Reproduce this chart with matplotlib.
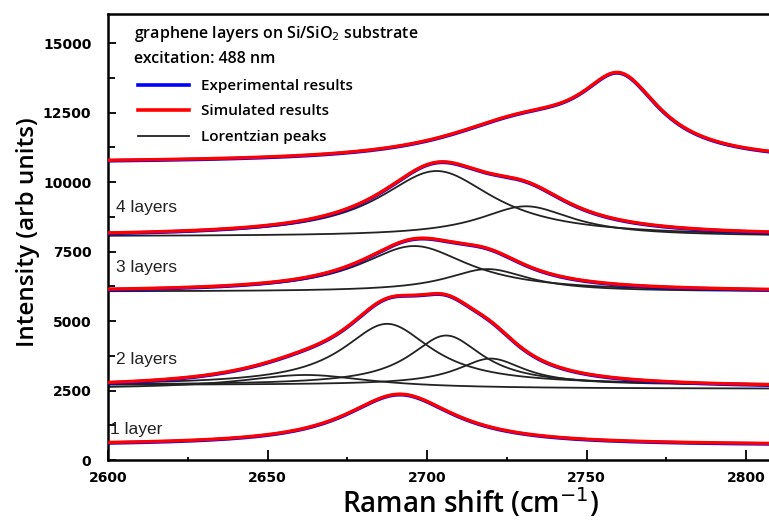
import numpy as np
import matplotlib.pyplot as plt
from matplotlib.ticker import MultipleLocator
from matplotlib.lines import Line2D

# Lorentzian fit parameters
# (centre in cm-1, height above baseline, half width at half maximum)
base_1l = 540
centers_1l = [2691.5]
heights_1l = [1830]
hwhm_1l = [21]

base_2l = 2600
comp_base_2l = [2700, 2700, 2700, 2560]
centers_2l = [2687.5, 2706, 2720, 2662]
heights_2l = [2200, 1780, 950, 500]
hwhm_2l = [17, 14, 13, 25]

base_3l = 6060
comp_base_3l = [6060, 6060]
centers_3l = [2696, 2719]
heights_3l = [1640, 810]
hwhm_3l = [21, 16]

base_4l = 8050
comp_base_4l = [8050, 8050]
centers_4l = [2703, 2731]
heights_4l = [2350, 1080]
hwhm_4l = [22, 18]

base_top = 10700
centers_top = [2760.5, 2730]
heights_top = [2600, 1300]
hwhm_top = [15, 30]

layer_names = ['1 layer', '2 layers', '3 layers', '4 layers']
label_x = [2600.5, 2602.5, 2602.5, 2602.5]
label_y = [1080, 3600, 6940, 9100]

shift = np.linspace(2600, 2810, 600)


def lorentz(x, c, h, w):
    return h / (1 + ((x - c) / w) ** 2)


def total(x, base, centers, heights, widths):
    y = np.full_like(x, base, dtype=float)
    for c, h, w in zip(centers, heights, widths):
        y += lorentz(x, c, h, w)
    return y


fig = plt.figure(figsize=(7.69, 5.25), dpi=100)
ax = fig.add_axes([108 / 769, 65 / 525, 661 / 769, 446 / 525])

spectra = [
    (base_1l, centers_1l, heights_1l, hwhm_1l, None),
    (base_2l, centers_2l, heights_2l, hwhm_2l, comp_base_2l),
    (base_3l, centers_3l, heights_3l, hwhm_3l, comp_base_3l),
    (base_4l, centers_4l, heights_4l, hwhm_4l, comp_base_4l),
    (base_top, centers_top, heights_top, hwhm_top, None),
]

for base, cs, hs, ws, cb in spectra:
    if cb is not None:
        for b, c, h, w in zip(cb, cs, hs, ws):
            ax.plot(shift, b + lorentz(shift, c, h, w), color='#222222', lw=1.3, zorder=2)
    y = total(shift, base, cs, hs, ws)
    # experimental trace sits just under the fit
    ax.plot(shift, y - 20, color='#0000ff', lw=2.6, zorder=3)
    ax.plot(shift, y, color='#ff0000', lw=2.4, zorder=4)

for name, lx, ly in zip(layer_names, label_x, label_y):
    ax.text(lx, ly, name, fontsize=12.5, color='#222222', va='center', ha='left',
            family='Liberation Sans')

ax.set_xlim(2600, 2807.2)
ax.set_ylim(0, 16050)
ax.xaxis.set_major_locator(MultipleLocator(50))
ax.xaxis.set_minor_locator(MultipleLocator(25))
ax.yaxis.set_major_locator(MultipleLocator(2500))
ax.yaxis.set_minor_locator(MultipleLocator(1250))
ax.tick_params(axis='both', which='both', direction='in', width=1.3)
ax.tick_params(axis='x', which='major', length=7, pad=8)
ax.tick_params(axis='x', which='minor', length=2)
ax.tick_params(axis='y', which='major', length=6, pad=12)
ax.tick_params(axis='y', which='minor', length=5)
for lab in ax.get_xticklabels() + ax.get_yticklabels():
    lab.set_fontweight('bold')
    lab.set_fontsize(10)
for s in ['left', 'bottom', 'top']:
    ax.spines[s].set_linewidth(1.8)
ax.spines['right'].set_visible(False)

ax.set_xlabel('Raman shift (cm$^{-1}$)', fontsize=20, family='Open Sans',
              fontweight='semibold', labelpad=1, x=0.548)
ax.set_ylabel('Intensity (arb units)', fontsize=17.5, family='Open Sans',
              fontweight='semibold', labelpad=2, y=0.51)

ax.text(0.04, 0.955, 'graphene layers on Si/SiO$_{2}$ substrate', transform=ax.transAxes,
        fontsize=11.5, family='Open Sans', fontweight='semibold', va='center')
ax.text(0.04, 0.9, 'excitation: 488 nm', transform=ax.transAxes,
        fontsize=11.5, family='Open Sans', fontweight='semibold', va='center')

handles = [Line2D([], [], color='#0000ff', lw=2.6),
           Line2D([], [], color='#ff0000', lw=2.6),
           Line2D([], [], color='#222222', lw=1.3)]
ax.legend(handles, ['Experimental results', 'Simulated results', 'Lorentzian peaks'],
          loc='upper left', bbox_to_anchor=(0.025, 0.885), frameon=False,
          prop={'family': 'Open Sans', 'weight': 'semibold', 'size': 11},
          handlelength=3.3, handletextpad=0.8, labelspacing=0.75)

fig.savefig('out.png', dpi=100)
